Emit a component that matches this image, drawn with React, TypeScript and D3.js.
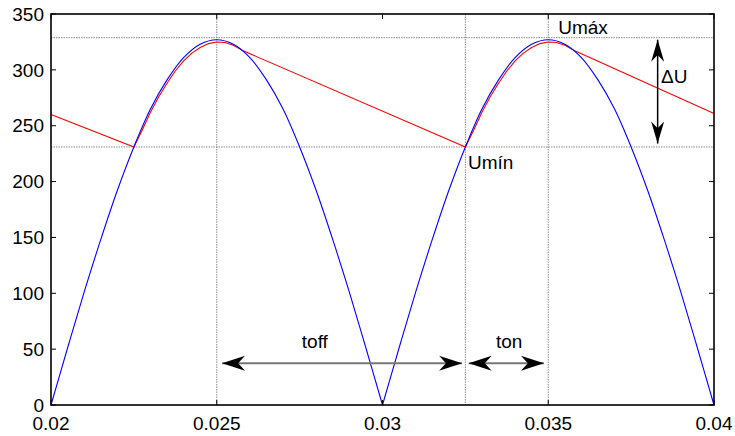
import React from "react";
import * as d3 from "d3";

// source voltage (rectified sine), sampled every 0.5 ms
const tBlue = [
  0.02, 0.0205, 0.021, 0.0215, 0.022, 0.0225, 0.023, 0.0235, 0.024, 0.0245,
  0.025, 0.0255, 0.026, 0.0265, 0.027, 0.0275, 0.028, 0.0285, 0.029, 0.0295,
  0.03, 0.0305, 0.031, 0.0315, 0.032, 0.0325, 0.033, 0.0335, 0.034, 0.0345,
  0.035, 0.0355, 0.036, 0.0365, 0.037, 0.0375, 0.038, 0.0385, 0.039, 0.0395, 0.04,
];
const vBlue = [
  0, 51, 101, 148, 192, 231, 265, 291, 311, 323,
  327, 323, 311, 291, 265, 231, 192, 148, 101, 51,
  0, 51, 101, 148, 192, 231, 265, 291, 311, 323,
  327, 323, 311, 291, 265, 231, 192, 148, 101, 51, 0,
];

// capacitor voltage
const tRed = [
  0.02, 0.0225, 0.02275, 0.023, 0.02325, 0.0235, 0.02375, 0.024, 0.02425, 0.0245,
  0.02475, 0.025, 0.02525, 0.0255, 0.0258,
  0.0325, 0.03275, 0.033, 0.03325, 0.0335, 0.03375, 0.034, 0.03425, 0.0345,
  0.03475, 0.035, 0.03525, 0.0355, 0.0358, 0.04,
];
const vRed = [
  260, 231, 246, 262, 276, 288, 299, 308, 315, 320,
  323.5, 325, 324.5, 322, 317,
  231, 246, 262, 276, 288, 299, 308, 315, 320,
  323.5, 325, 324.5, 322, 317, 261,
];

const xTicks = [0.02, 0.025, 0.03, 0.035, 0.04];
const xTickLabels = ["0.02", "0.025", "0.03", "0.035", "0.04"];
const yTicks = [0, 50, 100, 150, 200, 250, 300, 350];

// reference lines
const refX = [0.025, 0.0325, 0.035];
const refY = [328.8, 231];

const W = 735;
const H = 436;
const left = 51, right = 714, top = 14, bottom = 405;
const font = "'Liberation Sans', Arial, sans-serif";

const x = d3.scaleLinear().domain([0.02, 0.04]).range([left, right]);
const y = d3.scaleLinear().domain([0, 350]).range([bottom, top]);

// chevron arrow head pointing along (dx,dy) with tip at (tx,ty)
const head = (tx: number, ty: number, dx: number, dy: number, L: number, Wd: number) => {
  const n = Math.hypot(dx, dy);
  const ux = dx / n, uy = dy / n;
  const px = -uy, py = ux;
  const pts = [
    [tx, ty],
    [tx - ux * L + px * Wd, ty - uy * L + py * Wd],
    [tx - ux * L * 0.7, ty - uy * L * 0.7],
    [tx - ux * L - px * Wd, ty - uy * L - py * Wd],
  ];
  return "M" + pts.map(p => p.join(",")).join("L") + "Z";
};

const DoubleArrow = ({ x1, y1, x2, y2, stroke, sw, L, Wd }: any) => (
  <g>
    <line x1={x1} y1={y1} x2={x2} y2={y2} stroke={stroke} strokeWidth={sw} />
    <path d={head(x2, y2, x2 - x1, y2 - y1, L, Wd)} fill="#000" />
    <path d={head(x1, y1, x1 - x2, y1 - y2, L, Wd)} fill="#000" />
  </g>
);

export default function App() {
  const blue = tBlue.map((t, i) => [t, vBlue[i]] as [number, number]);
  // split the rectified wave at its zeros so the V-shaped minima stay sharp
  const zeroIdx = vBlue.map((v, i) => (v === 0 ? i : -1)).filter(i => i >= 0);
  const halves: [number, number][][] = [];
  for (let k = 0; k < zeroIdx.length - 1; k++) halves.push(blue.slice(zeroIdx[k], zeroIdx[k + 1] + 1));

  const smooth = d3
    .line<[number, number]>()
    .x(d => x(d[0]))
    .y(d => y(d[1]))
    .curve(d3.curveCatmullRom.alpha(0.5));
  const straight = d3
    .line<[number, number]>()
    .x(d => x(d[0]))
    .y(d => y(d[1]));
  const red = tRed.map((t, i) => [t, vRed[i]] as [number, number]);

  const tick = 5;
  const textStyle = { fontFamily: font, fontSize: 19, fill: "#000" };

  return (
    <svg width={W} height={H} style={{ position: "absolute", left: 0, top: 0, background: "#fff" }}>
      <rect x={0} y={0} width={W} height={H} fill="#fff" />

      {/* reference lines */}
      {refY.map((v, i) => (
        <line key={"ry" + i} x1={left} x2={right} y1={y(v)} y2={y(v)} stroke="#8c8c8c" strokeWidth={1} strokeDasharray="1.5,1" />
      ))}
      {refX.map((v, i) => (
        <line key={"rx" + i} x1={x(v)} x2={x(v)} y1={top} y2={bottom} stroke="#8c8c8c" strokeWidth={1} strokeDasharray="1.5,1" />
      ))}

      {/* curves */}
      <path d={straight(red) || ""} fill="none" stroke="#ff0000" strokeWidth={1.1} />
      {halves.map((h, i) => (
        <path key={"b" + i} d={smooth(h) || ""} fill="none" stroke="#0000ff" strokeWidth={1.1} />
      ))}

      {/* axes box and ticks */}
      <rect x={left} y={top} width={right - left} height={bottom - top} fill="none" stroke="#000" strokeWidth={1.6} />
      {xTicks.map((v, i) => (
        <g key={"xt" + i}>
          <line x1={x(v)} x2={x(v)} y1={bottom} y2={bottom - tick} stroke="#000" strokeWidth={1} />
          <line x1={x(v)} x2={x(v)} y1={top} y2={top + tick} stroke="#000" strokeWidth={1} />
          <text x={x(v)} y={430} textAnchor="middle" style={textStyle}>
            {xTickLabels[i]}
          </text>
        </g>
      ))}
      {yTicks.map((v, i) => (
        <g key={"yt" + i}>
          <line x1={left} x2={left + tick} y1={y(v)} y2={y(v)} stroke="#000" strokeWidth={1} />
          <line x1={right} x2={right - tick} y1={y(v)} y2={y(v)} stroke="#000" strokeWidth={1} />
          <text x={44} y={y(v)} dy="0.35em" textAnchor="end" style={textStyle}>
            {v}
          </text>
        </g>
      ))}

      {/* annotations */}
      <text x={x(0.0353)} y={y(332)} style={textStyle}>Umáx</text>
      <text x={x(0.03258)} y={y(211)} style={textStyle}>Umín</text>
      <text x={x(0.0384)} y={y(288)} style={textStyle}>ΔU</text>
      <text x={x(0.02796)} y={y(51)} textAnchor="middle" style={textStyle}>toff</text>
      <text x={x(0.03382)} y={y(51)} textAnchor="middle" style={textStyle}>ton</text>

      <DoubleArrow x1={x(0.02516)} y1={y(37.3)} x2={x(0.0324)} y2={y(37.3)} stroke="#777" sw={2} L={23} Wd={7.5} />
      <DoubleArrow x1={x(0.0326)} y1={y(37.3)} x2={x(0.03487)} y2={y(37.3)} stroke="#777" sw={2} L={23} Wd={7.5} />
      <DoubleArrow x1={x(0.0383)} y1={y(327)} x2={x(0.0383)} y2={y(234)} stroke="#000" sw={1.5} L={22} Wd={6.5} />
    </svg>
  );
}
